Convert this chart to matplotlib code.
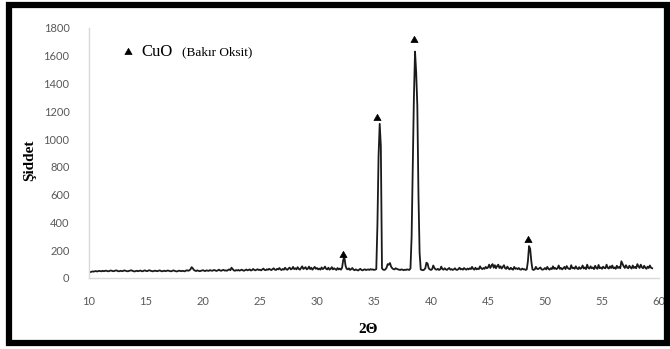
import numpy as np
import matplotlib
matplotlib.use("Agg")
import matplotlib.pyplot as plt
from matplotlib.patches import Rectangle

# XRD scan, 0.1 degree steps from 10.0 to 59.4 (2-theta)
two_theta = np.round(np.arange(10.0, 59.45, 0.1), 1)
intensity = np.array([
    38, 42, 45, 47, 46, 48, 50, 47, 49, 51,          # 10
    50, 48, 52, 49, 51, 53, 50, 48, 51, 54,          # 11
    52, 49, 50, 53, 55, 51, 48, 50, 52, 49,          # 12
    51, 55, 52, 50, 48, 51, 53, 56, 52, 49,          # 13
    47, 50, 52, 49, 51, 54, 50, 48, 52, 55,          # 14
    51, 49, 53, 56, 52, 50, 48, 51, 53, 50,          # 15
    49, 52, 55, 51, 48, 50, 53, 49, 51, 54,          # 16
    52, 50, 48, 51, 55, 52, 49, 47, 50, 53,          # 17
    51, 49, 52, 50, 48, 53, 56, 52, 55, 62,          # 18
    78, 70, 58, 53, 50, 55, 52, 49, 51, 54,          # 19
    56, 52, 50, 55, 53, 51, 57, 54, 52, 55,          # 20
    58, 53, 51, 55, 60, 54, 52, 56, 59, 53,          # 21
    55, 52, 58, 62, 56, 74, 64, 55, 52, 57,          # 22
    54, 58, 53, 56, 60, 55, 52, 57, 61, 55,          # 23
    58, 62, 54, 57, 65, 58, 55, 60, 63, 57,          # 24
    60, 55, 62, 68, 58, 56, 63, 59, 66, 61,          # 25
    57, 64, 70, 60, 58, 66, 62, 72, 61, 58,          # 26
    65, 60, 74, 63, 59, 68, 75, 62, 66, 80,          # 27
    64, 70, 62, 78, 66, 60, 72, 84, 65, 70,          # 28
    78, 62, 68, 82, 64, 74, 60, 70, 80, 66,          # 29
    72, 62, 68, 60, 76, 64, 70, 82, 66, 62,          # 30
    74, 60, 66, 78, 62, 70, 64, 58, 72, 62,          # 31
    68, 60, 74, 130, 150, 90, 66, 62, 70, 58,        # 32
    64, 72, 60, 56, 62, 58, 54, 60, 66, 58,          # 33
    55, 60, 63, 57, 60, 62, 58, 64, 60, 62,          # 34
    58, 60, 64, 380, 880, 1110, 950, 70, 60, 58,     # 35
    62, 74, 100, 96, 108, 82, 70, 64, 62, 70,        # 36
    66, 62, 60, 58, 62, 60, 56, 60, 58, 62,          # 37
    60, 58, 70, 300, 800, 1300, 1630, 1480, 1240, 600,  # 38
    180, 62, 58, 56, 60, 70, 110, 104, 70, 62,       # 39
    58, 64, 90, 72, 62, 60, 66, 58, 62, 82,          # 40
    64, 60, 70, 62, 58, 66, 72, 60, 64, 58,          # 41
    62, 70, 60, 58, 64, 74, 62, 66, 60, 72,          # 42
    64, 60, 68, 62, 70, 64, 80, 66, 60, 74,          # 43
    62, 68, 64, 84, 70, 64, 72, 66, 80, 70,          # 44
    76, 96, 72, 88, 100, 74, 92, 70, 86, 96,         # 45
    72, 84, 68, 80, 92, 70, 66, 82, 68, 62,          # 46
    74, 64, 60, 80, 66, 70, 64, 72, 62, 60,          # 47
    68, 62, 64, 58, 62, 120, 230, 210, 120, 62,      # 48
    58, 62, 80, 66, 64, 70, 76, 62, 60, 64,          # 49
    72, 62, 80, 66, 60, 70, 64, 84, 66, 72,          # 50
    64, 70, 90, 66, 72, 62, 70, 80, 64, 86,          # 51
    72, 66, 64, 92, 70, 74, 66, 84, 70, 64,          # 52
    78, 66, 72, 90, 68, 76, 64, 96, 72, 68,          # 53
    84, 70, 76, 64, 88, 72, 66, 94, 70, 76,          # 54
    66, 82, 72, 70, 96, 74, 68, 84, 72, 90,          # 55
    70, 76, 66, 88, 72, 80, 70, 120, 102, 84,        # 56
    72, 92, 76, 70, 88, 76, 68, 90, 72, 80,          # 57
    70, 100, 84, 72, 96, 78, 70, 88, 74, 66,         # 58
    82, 72, 90, 74, 70,                              # 59
])

# CuO reflections marked with triangles
cuo_theta = [32.3, 35.3, 38.5, 48.5]
cuo_mark = [165, 1150, 1715, 272]

xticks = list(range(10, 61, 5))
yticks = list(range(0, 1801, 200))

fig = plt.figure(figsize=(6.70, 3.49), dpi=100)
ax = fig.add_axes([89 / 670, 71 / 349, 570 / 670, 250 / 349])

ax.plot(two_theta, intensity, color="#1a1a1a", lw=1.3)
ax.plot(cuo_theta, cuo_mark, ls="none", marker=(3, 0, 0), ms=6,
        markeredgewidth=0.5, color="black")

ax.set_xlim(10, 60)
ax.set_ylim(0, 1800)
ax.set_xticks(xticks)
ax.set_yticks(yticks)
ax.tick_params(length=0, labelsize=8, colors="#595959")
ax.tick_params(axis="y", pad=14)
ax.tick_params(axis="x", pad=13)
for lab in ax.get_xticklabels() + ax.get_yticklabels():
    lab.set_family("Lato")

for side in ("top", "right"):
    ax.spines[side].set_visible(False)
for side in ("left", "bottom"):
    ax.spines[side].set_color("#d9d9d9")
    ax.spines[side].set_linewidth(1.0)

ax.set_ylabel("Şiddet", family="Liberation Serif", fontweight="bold", fontsize=11)
ax.yaxis.set_label_coords(-0.093, 0.47)
ax.set_xlabel("2Θ", family="Liberation Serif", fontweight="bold", fontsize=11)
ax.xaxis.set_label_coords(0.49, -0.18)

# legend-like annotation
ax.plot([13.4], [1625], ls="none", marker=(3, 0, 0), ms=6,
        markeredgewidth=0.5, color="black")
ax.text(14.6, 1630, "CuO", family="Liberation Serif", fontsize=12, va="center")
ax.text(18.2, 1625, "(Bakır Oksit)", family="Liberation Serif", fontsize=9.5, va="center")

# heavy outer frame
fig.patches.append(Rectangle((9 / 670, 6 / 349), 658 / 670, 338 / 349,
                             transform=fig.transFigure, fill=False,
                             edgecolor="black", lw=4.5))

fig.savefig("out.png", dpi=100)
